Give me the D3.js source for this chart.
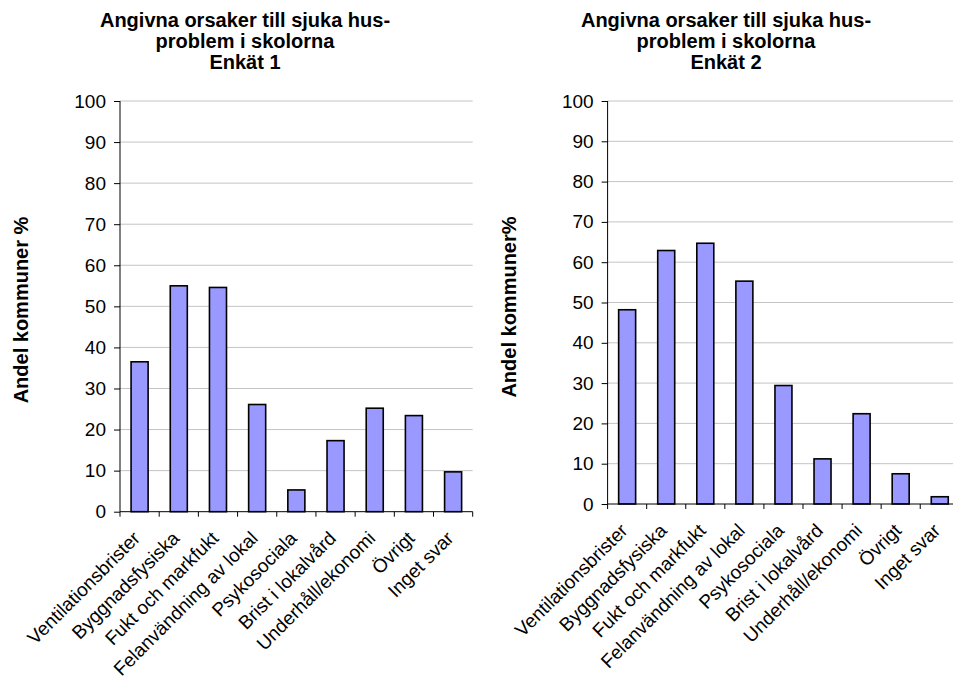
<!DOCTYPE html>
<html>
<head>
<meta charset="utf-8">
<script src="https://cdn.jsdelivr.net/npm/d3@7"></script>
<style>
  html, body { margin: 0; padding: 0; background: #fff; }
  svg { display: block; overflow: hidden; }
  text { font-family: "Liberation Sans", Arial, sans-serif; fill: #000; }
</style>
</head>
<body>
<svg id="chart" width="953" height="682"></svg>
<script>
// Survey categories (shared by both panels)
const categories = [
  "Ventilationsbrister",
  "Byggnadsfysiska",
  "Fukt och markfukt",
  "Felanvändning av lokal",
  "Psykosociala",
  "Brist i lokalvård",
  "Underhåll/ekonomi",
  "Övrigt",
  "Inget svar"
];

// Share of municipalities (%) per stated cause
const enkat1Values = [36.5, 55.0, 54.6, 26.1, 5.3, 17.3, 25.2, 23.4, 9.7];
const enkat2Values = [48.2, 62.9, 64.7, 55.3, 29.4, 11.2, 22.4, 7.5, 1.8];

const yTicks = [0, 10, 20, 30, 40, 50, 60, 70, 80, 90, 100];

const titleLines1 = ["Angivna orsaker till sjuka hus-", "problem i skolorna", "Enkät 1"];
const titleLines2 = ["Angivna orsaker till sjuka hus-", "problem i skolorna", "Enkät 2"];

const yTitle1 = "Andel kommuner %";
const yTitle2 = "Andel kommuner%";

const svg = d3.select("#chart");

function drawPanel(cfg) {
  const g = svg.append("g");

  const x = d3.scaleBand()
    .domain(cfg.categories)
    .range([cfg.left, cfg.right])
    .paddingInner(1 - 1 / 2.3)
    .paddingOuter((1 - 1 / 2.3) / 2);

  const y = d3.scaleLinear()
    .domain([0, 100])
    .range([cfg.bottom, cfg.top]);

  // horizontal gridlines
  g.append("g")
    .selectAll("line")
    .data(cfg.yTicks.filter(d => d > 0))
    .join("line")
    .attr("x1", cfg.left)
    .attr("x2", cfg.right)
    .attr("y1", d => y(d))
    .attr("y2", d => y(d))
    .attr("stroke", "#c4c4c4")
    .attr("stroke-width", 1);

  // bars
  g.append("g")
    .selectAll("rect")
    .data(cfg.values)
    .join("rect")
    .attr("x", (d, i) => x(cfg.categories[i]))
    .attr("y", d => y(d))
    .attr("width", x.bandwidth())
    .attr("height", d => y(0) - y(d))
    .attr("fill", "#9999ff")
    .attr("stroke", "#000")
    .attr("stroke-width", 1.6);

  // y axis
  const yAxis = d3.axisLeft(y)
    .tickValues(cfg.yTicks)
    .tickSize(6)
    .tickPadding(8)
    .tickFormat(d3.format("d"));
  const ya = g.append("g")
    .attr("transform", `translate(${cfg.left},0)`)
    .call(yAxis);
  ya.select(".domain").attr("stroke", "#000").attr("d", `M0,${cfg.top}V${cfg.bottom}`);
  ya.selectAll(".tick line").attr("stroke", "#000");
  ya.selectAll(".tick text")
    .style("font-size", "19px")
    .style("font-family", "'Liberation Sans', Arial, sans-serif")
    .attr("fill", "#000");

  // x axis line with ticks at category boundaries
  g.append("line")
    .attr("x1", cfg.left).attr("x2", cfg.right)
    .attr("y1", cfg.bottom).attr("y2", cfg.bottom)
    .attr("stroke", "#000");
  const step = x.step();
  g.append("g")
    .selectAll("line")
    .data(d3.range(cfg.categories.length + 1))
    .join("line")
    .attr("x1", i => cfg.left + i * step)
    .attr("x2", i => cfg.left + i * step)
    .attr("y1", cfg.bottom)
    .attr("y2", cfg.bottom + 5)
    .attr("stroke", "#000");

  // rotated category labels
  g.append("g")
    .selectAll("text")
    .data(cfg.categories)
    .join("text")
    .attr("transform", d => `translate(${x(d) + x.bandwidth() / 2 - 3},${cfg.bottom + 23}) rotate(-45)`)
    .attr("text-anchor", "end")
    .attr("dy", "0.35em")
    .style("font-size", "19px")
    .text(d => d);

  // title
  g.append("text")
    .attr("text-anchor", "middle")
    .style("font-size", "20px")
    .style("font-weight", "bold")
    .selectAll("tspan")
    .data(cfg.title)
    .join("tspan")
    .attr("x", cfg.titleX)
    .attr("y", (d, i) => cfg.titleY + i * 21)
    .text(d => d);

  // y axis title
  g.append("text")
    .attr("transform", `translate(${cfg.yTitleX},${cfg.yTitleY}) rotate(-90)`)
    .attr("text-anchor", "middle")
    .attr("dy", "0.35em")
    .style("font-size", "20px")
    .style("font-weight", "bold")
    .text(cfg.yTitle);
}

drawPanel({
  categories, values: enkat1Values, yTicks,
  left: 120, right: 472.7, top: 101, bottom: 511.7,
  title: titleLines1, titleX: 245, titleY: 27,
  yTitle: yTitle1, yTitleX: 21, yTitleY: 310
});

drawPanel({
  categories, values: enkat2Values, yTicks,
  left: 607.6, right: 959.3, top: 101, bottom: 504,
  title: titleLines2, titleX: 726, titleY: 27,
  yTitle: yTitle2, yTitleX: 508.5, yTitleY: 307
});
</script>
</body>
</html>
